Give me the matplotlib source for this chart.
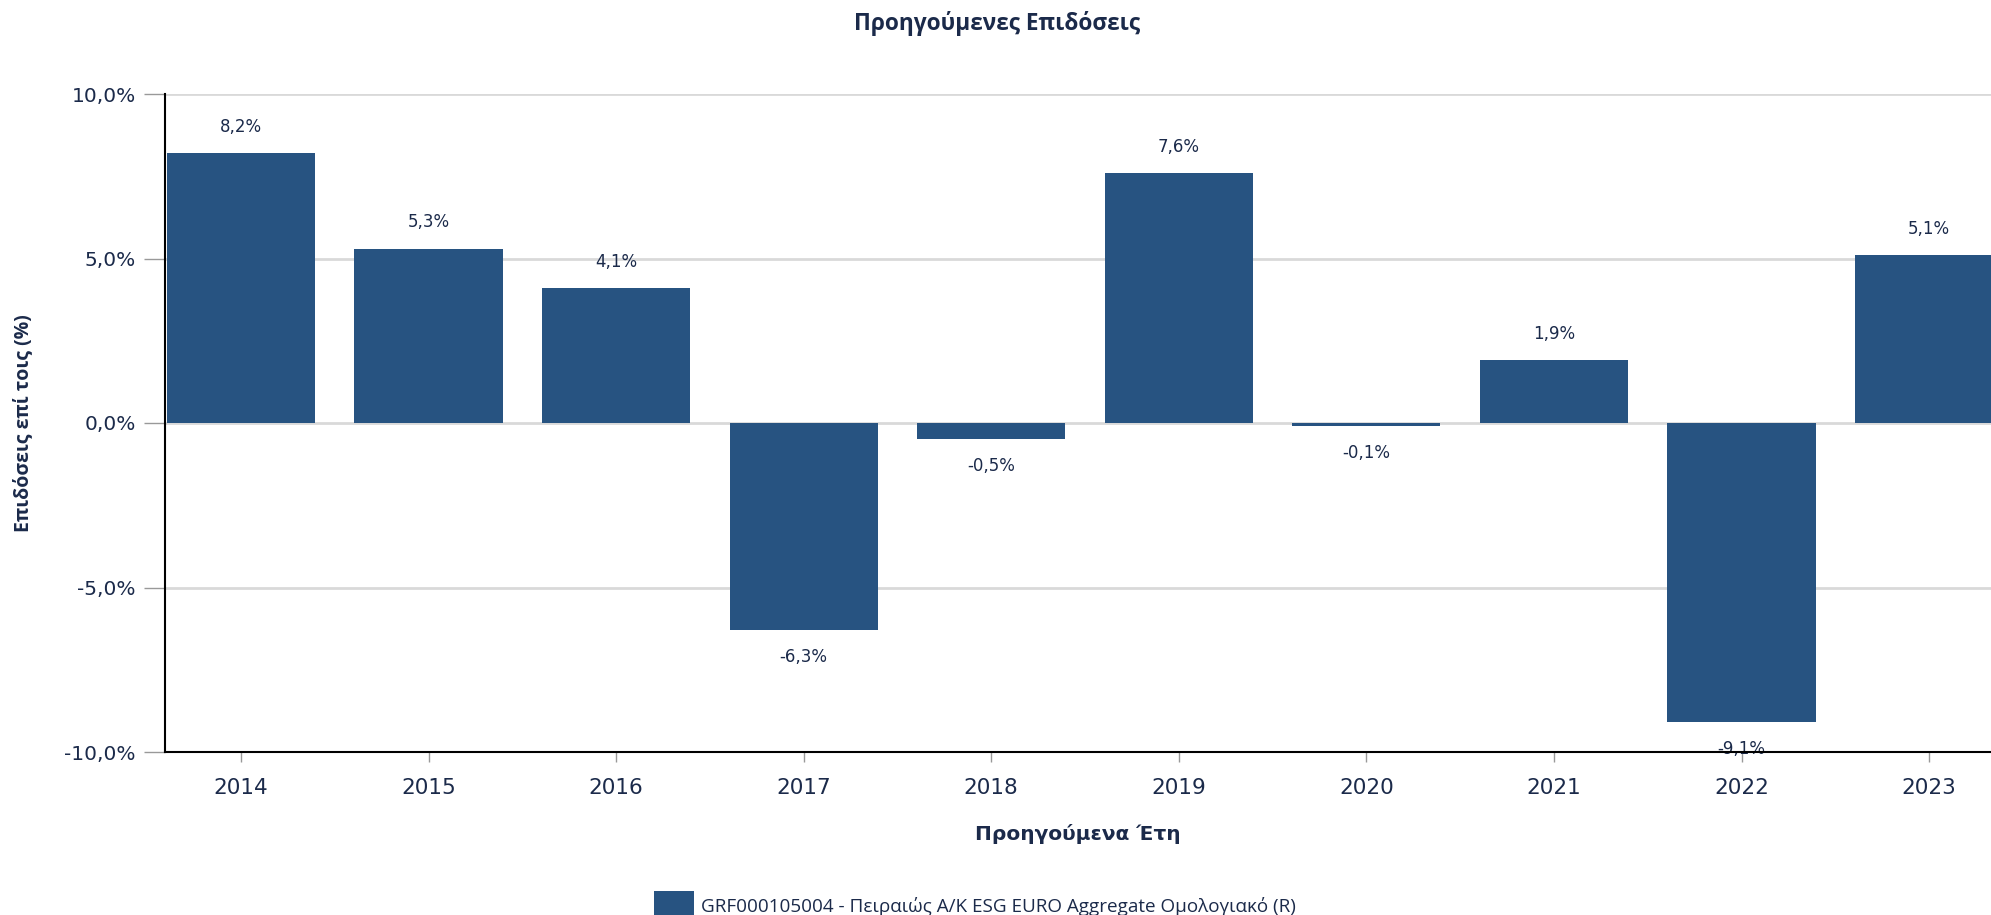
import matplotlib.pyplot as plt
from matplotlib.patches import Patch
from matplotlib.ticker import FuncFormatter

years = ['2014', '2015', '2016', '2017', '2018', '2019', '2020', '2021', '2022', '2023']
returns = [8.2, 5.3, 4.1, -6.3, -0.5, 7.6, -0.1, 1.9, -9.1, 5.1]
yticks = [-10, -5, 0, 5, 10]
series_name = 'GRF000105004 - Πειραιώς Α/Κ ESG EURO Aggregate Ομολογιακό (R)'

bar_color = '#275381'
text_color = '#1b2a4a'

fig = plt.figure(figsize=(19.91, 9.15), dpi=100)
ax = fig.add_axes([165 / 1991, 163 / 915, 1826 / 1991, 658 / 915])

x = list(range(len(years)))
ax.bar(x, returns, width=0.79, color=bar_color, zorder=3)

# value labels above / below each bar
for xi, v in zip(x, returns):
    off = 19 if v >= 0 else -19
    ax.annotate(f'{v:.1f}%'.replace('.', ','), (xi, v), xytext=(0, off),
                textcoords='offset points', ha='center', va='center',
                fontsize=12, color=text_color, zorder=4)

ax.set_xlim(-0.405, 9.33)
ax.set_ylim(-10, 10)
ax.set_xticks(x)
ax.set_xticklabels(years)
ax.set_yticks(yticks)
ax.yaxis.set_major_formatter(FuncFormatter(lambda v, p: f'{v:.1f}%'.replace('.', ',')))

ax.grid(axis='y', color='#d9d9d9', linewidth=2, zorder=0)
ax.set_axisbelow(True)
for s in ['top', 'right']:
    ax.spines[s].set_visible(False)
ax.spines['left'].set_color('black')
ax.spines['left'].set_linewidth(1.5)
ax.spines['bottom'].set_color('black')
ax.spines['bottom'].set_linewidth(1.5)
ax.spines['bottom'].set_zorder(5)

ax.tick_params(axis='y', length=15, width=1, color='#999999', pad=6,
               labelsize=14.5, labelcolor=text_color)
ax.tick_params(axis='x', length=7, width=1, color='#999999', pad=11.5,
               labelsize=15.5, labelcolor=text_color)

ax.set_xlabel('Προηγούμενα Έτη', fontsize=14.5, fontweight='bold', color=text_color, labelpad=19)
fig.text(23 / 1991, 1 - 423 / 915, 'Επιδόσεις επί τοις (%)', rotation=90,
         ha='center', va='center', fontsize=14, fontweight='bold', color=text_color,
         family=['Open Sans', 'DejaVu Sans'])
fig.text(997 / 1991, 1 - 23 / 915, 'Προηγούμενες Επιδόσεις', ha='center', va='center',
         fontsize=16.3, fontweight='bold', color=text_color, family=['Open Sans', 'DejaVu Sans'])

handle = Patch(facecolor=bar_color, edgecolor='none')
fig.legend([handle], [series_name], loc='center left', bbox_to_anchor=(654 / 1991, 1 - 906 / 915),
           frameon=False, handlelength=2.1, handleheight=2.1, handletextpad=0.4,
           borderpad=0, borderaxespad=0, labelcolor=text_color,
           prop={'family': ['Open Sans', 'DejaVu Sans'], 'size': 13.6})

fig.savefig('out.png', dpi=100)
